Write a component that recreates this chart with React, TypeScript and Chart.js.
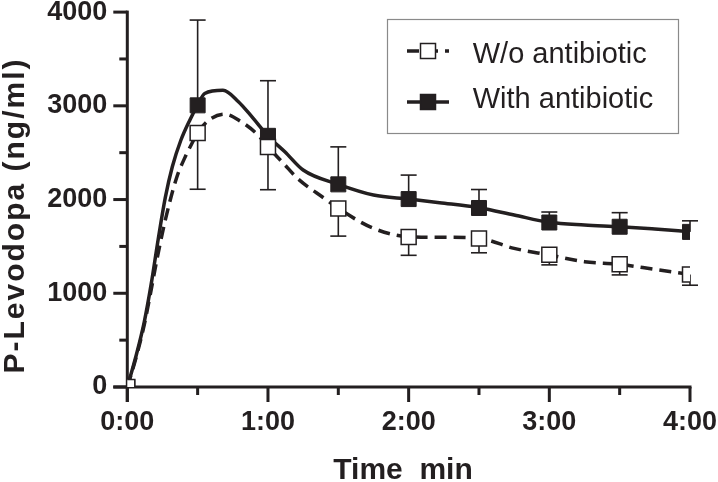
import React, { useEffect, useRef } from "react";
import { Chart, registerables } from "chart.js";

Chart.register(...registerables);

// ---------- data ----------
const TIMES = [0, 0.5, 1, 1.5, 2, 2.5, 3, 3.5, 4];
const WO_VALUES = [0, 2710, 2560, 1905, 1600, 1585, 1410, 1310, 1200];
const WO_ERR_LOW = [0, 600, 455, 295, 195, 153, 107, 114, 114];
const WITH_VALUES = [0, 3005, 2680, 2162, 2005, 1910, 1755, 1710, 1655];
const WITH_ERR_UP = [0, 910, 588, 400, 256, 197, 112, 150, 118];

const WO_CURVE_T = [0, 0.06, 0.12, 0.16, 0.21, 0.27, 0.35, 0.41, 0.46, 0.5, 0.58, 0.69, 0.81, 0.93, 1.0, 1.11, 1.21, 1.4, 1.5, 1.75, 2.0, 2.25, 2.5, 2.75, 3.0, 3.25, 3.5, 3.75, 4.0];
const WO_CURVE_V = [0, 300, 660, 960, 1355, 1780, 2230, 2450, 2600, 2713, 2848, 2912, 2830, 2688, 2563, 2386, 2226, 2013, 1906, 1693, 1603, 1597, 1586, 1479, 1408, 1337, 1309, 1255, 1202];
const WITH_CURVE_T = [0, 0.06, 0.12, 0.17, 0.22, 0.27, 0.32, 0.38, 0.445, 0.5, 0.55, 0.68, 0.79, 0.885, 1.0, 1.12, 1.25, 1.5, 1.75, 2.0, 2.22, 2.5, 2.75, 3.0, 3.25, 3.5, 3.75, 4.0];
const WITH_CURVE_V = [0, 320, 690, 1100, 1580, 2020, 2350, 2630, 2850, 3008, 3132, 3165, 3044, 2884, 2677, 2510, 2315, 2162, 2048, 2005, 1966, 1913, 1835, 1757, 1728, 1710, 1685, 1657];

const X_MAJOR = [0, 1, 2, 3, 4];
const X_MINOR = [0.5, 1.5, 2.5, 3.5];
const Y_MAJOR = [0, 1000, 2000, 3000, 4000];
const Y_MINOR = [500, 1500, 2500, 3500];

const SERIES_LABELS = ["W/o antibiotic", "With antibiotic"];
const X_TITLE = "Time  min";
const Y_TITLE = "P-Levodopa (ng/ml)";

const INK = "#231f20";
const FONT = "'Liberation Sans', Arial, Helvetica, sans-serif";
const DASH = [12, 7];

const pts = (xs: number[], ys: number[]) => xs.map((x, i) => ({ x, y: ys[i] }));

function drawSquare(ctx: CanvasRenderingContext2D, cx: number, cy: number, side: number, filled: boolean) {
  ctx.save();
  ctx.setLineDash([]);
  ctx.fillStyle = filled ? INK : "#ffffff";
  ctx.strokeStyle = INK;
  ctx.lineWidth = 1.5;
  ctx.fillRect(cx - side / 2, cy - side / 2, side, side);
  ctx.strokeRect(cx - side / 2, cy - side / 2, side, side);
  ctx.restore();
}

function bar(ctx: CanvasRenderingContext2D, x1: number, y1: number, x2: number, y2: number, w: number) {
  // draw line segments as filled rectangles
  if (x1 === x2) {
    ctx.fillRect(x1 - w / 2, Math.min(y1, y2), w, Math.abs(y2 - y1));
  } else {
    ctx.fillRect(Math.min(x1, x2), y1 - w / 2, Math.abs(x2 - x1), w);
  }
}

function drawAxes(chart: any) {
  const ctx: CanvasRenderingContext2D = chart.ctx;
  const xs = chart.scales.x;
  const ys = chart.scales.y;
  ctx.save();
  ctx.fillStyle = INK;
  const left = xs.getPixelForValue(0);
  const bottom = ys.getPixelForValue(0);
  const W = 3;
  bar(ctx, left, ys.getPixelForValue(4000) - 1.5, left, bottom + 15, W);
  bar(ctx, left - 14, bottom, xs.getPixelForValue(4) + 1.5, bottom, W);
  Y_MAJOR.forEach((v) => bar(ctx, left - 14, ys.getPixelForValue(v), left, ys.getPixelForValue(v), W));
  Y_MINOR.forEach((v) => bar(ctx, left - 8, ys.getPixelForValue(v), left, ys.getPixelForValue(v), W));
  X_MAJOR.forEach((v) => bar(ctx, xs.getPixelForValue(v), bottom, xs.getPixelForValue(v), bottom + 15, W));
  X_MINOR.forEach((v) => bar(ctx, xs.getPixelForValue(v), bottom, xs.getPixelForValue(v), bottom + 8, W));
  ctx.restore();
}

function drawErrors(chart: any) {
  const ctx: CanvasRenderingContext2D = chart.ctx;
  const xs = chart.scales.x;
  const ys = chart.scales.y;
  ctx.save();
  ctx.fillStyle = INK;
  const cap = 8;
  const EW = 1.6;
  TIMES.forEach((t, i) => {
    const px = xs.getPixelForValue(t);
    if (WITH_ERR_UP[i] > 0) {
      const a = ys.getPixelForValue(WITH_VALUES[i]);
      const b = ys.getPixelForValue(WITH_VALUES[i] + WITH_ERR_UP[i]);
      bar(ctx, px, a, px, b, EW);
      bar(ctx, px - cap, b, px + cap, b, EW);
    }
    if (WO_ERR_LOW[i] > 0) {
      const a = ys.getPixelForValue(WO_VALUES[i]);
      const b = ys.getPixelForValue(WO_VALUES[i] - WO_ERR_LOW[i]);
      bar(ctx, px, a, px, b, EW);
      bar(ctx, px - cap, b, px + cap, b, EW);
    }
  });
  ctx.restore();
}

const customPlugin = {
  id: "custom",
  beforeDatasetsDraw(chart: any) {
    drawAxes(chart);
    drawErrors(chart);
  },
  afterDraw(chart: any) {
    const ctx: CanvasRenderingContext2D = chart.ctx;
    ctx.save();
    ctx.setLineDash([]);
    ctx.fillStyle = INK;
    ctx.font = `bold 30px ${FONT}`;
    ctx.textAlign = "center";
    ctx.textBaseline = "alphabetic";
    ctx.fillText(X_TITLE, 403, 479);
    ctx.save();
    ctx.translate(24, 215.5);
    ctx.rotate(-Math.PI / 2);
    try {
      (ctx as any).letterSpacing = "2px";
    } catch (e) {}
    ctx.fillText(Y_TITLE, 0, 0);
    ctx.restore();

    ctx.strokeStyle = "#8a8a8a";
    ctx.lineWidth = 1.2;
    ctx.strokeRect(387.5, 19.5, 291, 114);
    const rows = [
      { y: 51, base: 62.7, dashed: true, filled: false },
      { y: 102, base: 108.3, dashed: false, filled: true },
    ];
    rows.forEach((r, i) => {
      ctx.strokeStyle = INK;
      ctx.lineWidth = 3.5;
      ctx.setLineDash(r.dashed ? DASH : []);
      ctx.beginPath();
      ctx.moveTo(407, r.y);
      ctx.lineTo(449, r.y);
      ctx.stroke();
      ctx.setLineDash([]);
      drawSquare(ctx, 428, r.y, 15, r.filled);
      ctx.fillStyle = INK;
      ctx.font = `29px ${FONT}`;
      ctx.textAlign = "left";
      ctx.fillText(SERIES_LABELS[i], 472.7, r.base);
    });
    ctx.restore();
  },
};

export default function App() {
  const ref = useRef<HTMLCanvasElement | null>(null);
  useEffect(() => {
    document.body.style.margin = "0";
    const canvas = ref.current;
    if (!canvas) return;
    const tickFont = { family: FONT, size: 27, weight: "bold" as const };
    const chart = new Chart(canvas, {
      type: "line",
      data: {
        datasets: [
          {
            label: SERIES_LABELS[0] + " markers",
            data: pts(TIMES, WO_VALUES),
            showLine: false,
            pointStyle: "rect",
            pointRadius: 10.6,
            pointBackgroundColor: "#ffffff",
            pointBorderColor: INK,
            pointBorderWidth: 1.5,
            order: 0,
          },
          {
            label: SERIES_LABELS[1] + " markers",
            data: pts(TIMES, WITH_VALUES),
            showLine: false,
            pointStyle: "rect",
            pointRadius: 10.6,
            pointBackgroundColor: INK,
            pointBorderColor: INK,
            pointBorderWidth: 1,
            order: 1,
          },
          {
            label: SERIES_LABELS[0],
            data: pts(WO_CURVE_T, WO_CURVE_V),
            borderColor: INK,
            borderWidth: 3.5,
            borderDash: DASH,
            pointRadius: 0,
            cubicInterpolationMode: "monotone",
            fill: false,
            order: 2,
          },
          {
            label: SERIES_LABELS[1],
            data: pts(WITH_CURVE_T, WITH_CURVE_V),
            borderColor: INK,
            borderWidth: 3.5,
            pointRadius: 0,
            cubicInterpolationMode: "monotone",
            fill: false,
            order: 3,
          },
        ],
      },
      options: {
        responsive: false,
        animation: false,
        devicePixelRatio: 1,
        layout: { padding: { top: 12, right: 28, left: 0, bottom: 0 } },
        plugins: { legend: { display: false }, tooltip: { enabled: false } },
        events: [],
        scales: {
          x: {
            type: "linear",
            min: 0,
            max: 4,
            grid: { display: false, drawTicks: false },
            border: { display: false },
            afterBuildTicks: (s: any) => {
              s.ticks = X_MAJOR.map((v) => ({ value: v }));
            },
            afterFit: (s: any) => {
              s.height = 95;
              s.paddingLeft = 0;
              s.paddingRight = 0;
            },
            ticks: {
              padding: 19,
              color: INK,
              font: tickFont,
              maxRotation: 0,
              autoSkip: false,
              callback: (v: any) => `${v}:00`,
            },
          },
          y: {
            type: "linear",
            min: 0,
            max: 4000,
            grid: { display: false, drawTicks: false },
            border: { display: false },
            afterBuildTicks: (s: any) => {
              s.ticks = Y_MAJOR.map((v) => ({ value: v }));
            },
            afterFit: (s: any) => {
              s.width = 127.3;
              s.paddingTop = 0;
              s.paddingBottom = 0;
            },
            ticks: {
              padding: 20,
              color: INK,
              font: tickFont,
              callback: (v: any) => String(v),
            },
          },
        },
      },
      plugins: [customPlugin],
    } as any);
    return () => chart.destroy();
  }, []);
  return (
    <div style={{ width: 718, height: 482, background: "#fff" }}>
      <canvas ref={ref} width={718} height={482} style={{ display: "block" }} />
    </div>
  );
}
